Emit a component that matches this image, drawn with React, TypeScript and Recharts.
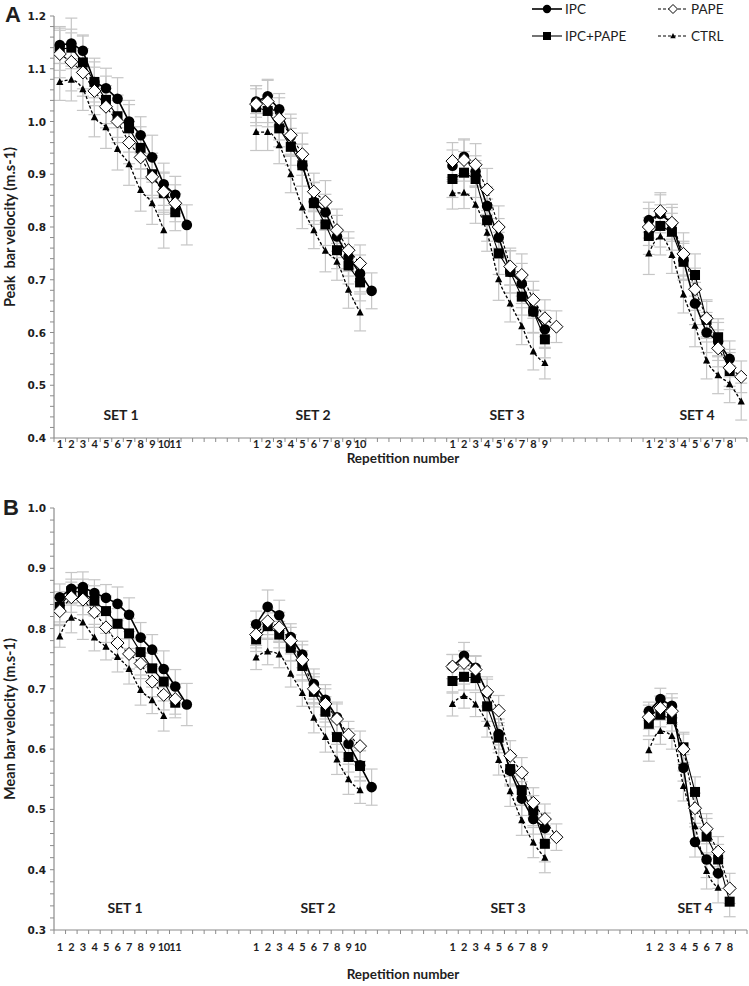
import React from 'react';
import { LineChart, Line, XAxis, YAxis, ErrorBar } from 'recharts';

const SET_START = [0, 17, 34, 51];
const SLOT_COUNT = 60;
const setNames = ['SET 1', 'SET 2', 'SET 3', 'SET 4'];
const repLabels = [
  ['1', '2', '3', '4', '5', '6', '7', '8', '9', '10', '11'],
  ['1', '2', '3', '4', '5', '6', '7', '8', '9', '10'],
  ['1', '2', '3', '4', '5', '6', '7', '8', '9'],
  ['1', '2', '3', '4', '5', '6', '7', '8'],
];

// Panel A: peak bar velocity, one inner list per set
const peakIPC = [
  [1.145, 1.148, 1.134, 1.075, 1.063, 1.043, 1.0, 0.974, 0.932, 0.881, 0.861, 0.804],
  [1.038, 1.048, 1.023, 0.972, 0.917, 0.848, 0.828, 0.782, 0.743, 0.712, 0.679],
  [0.916, 0.933, 0.905, 0.84, 0.78, 0.715, 0.693, 0.64, 0.606],
  [0.813, 0.825, 0.807, 0.737, 0.655, 0.6, 0.583, 0.55],
];
const peakCombo = [
  [1.137, 1.14, 1.112, 1.075, 1.041, 1.01, 0.987, 0.95, 0.9, 0.864, 0.828],
  [1.027, 1.02, 0.987, 0.952, 0.917, 0.845, 0.805, 0.756, 0.727, 0.695],
  [0.891, 0.903, 0.891, 0.813, 0.75, 0.715, 0.668, 0.64, 0.587],
  [0.783, 0.802, 0.791, 0.734, 0.709, 0.624, 0.591, 0.527],
];
const peakPAPE = [
  [1.128, 1.113, 1.093, 1.058, 1.028, 1.0, 0.96, 0.932, 0.895, 0.867, 0.845],
  [1.033, 1.038, 1.005, 0.974, 0.938, 0.867, 0.848, 0.794, 0.756, 0.731],
  [0.925, 0.927, 0.918, 0.871, 0.8, 0.725, 0.709, 0.662, 0.627, 0.611],
  [0.8, 0.83, 0.808, 0.749, 0.682, 0.627, 0.57, 0.533, 0.516],
];
const peakCTRL = [
  [1.075, 1.079, 1.061, 1.008, 0.989, 0.948, 0.919, 0.87, 0.845, 0.794],
  [0.98, 0.98, 0.955, 0.9, 0.837, 0.794, 0.755, 0.734, 0.681, 0.638],
  [0.864, 0.865, 0.842, 0.789, 0.701, 0.655, 0.612, 0.564, 0.542],
  [0.75, 0.782, 0.747, 0.672, 0.613, 0.547, 0.519, 0.502, 0.469],
];
const peakIPCsd = [
  [0.035, 0.048, 0.03, 0.038, 0.038, 0.04, 0.04, 0.035, 0.042, 0.04, 0.035, 0.038],
  [0.03, 0.032, 0.03, 0.034, 0.04, 0.036, 0.034, 0.04, 0.036, 0.035, 0.034],
  [0.03, 0.032, 0.03, 0.036, 0.036, 0.04, 0.038, 0.04, 0.036],
  [0.034, 0.036, 0.03, 0.036, 0.04, 0.038, 0.036, 0.034],
];
const peakComboSd = [
  [0.04, 0.035, 0.05, 0.045, 0.045, 0.04, 0.045, 0.04, 0.04, 0.04, 0.035],
  [0.035, 0.03, 0.035, 0.035, 0.04, 0.04, 0.04, 0.035, 0.035, 0.035],
  [0.035, 0.04, 0.035, 0.04, 0.04, 0.04, 0.035, 0.04, 0.035],
  [0.035, 0.04, 0.035, 0.035, 0.04, 0.035, 0.035, 0.035],
];
const peakPAPEsd = [
  [0.045, 0.055, 0.045, 0.045, 0.04, 0.04, 0.04, 0.04, 0.04, 0.035, 0.035],
  [0.035, 0.04, 0.04, 0.04, 0.04, 0.035, 0.04, 0.04, 0.035, 0.035],
  [0.035, 0.04, 0.04, 0.04, 0.04, 0.035, 0.04, 0.035, 0.035, 0.03],
  [0.035, 0.035, 0.035, 0.04, 0.04, 0.035, 0.035, 0.035, 0.03],
];
const peakCTRLsd = [
  [0.035, 0.04, 0.04, 0.037, 0.04, 0.04, 0.04, 0.04, 0.04, 0.034],
  [0.035, 0.035, 0.035, 0.035, 0.04, 0.035, 0.04, 0.035, 0.035, 0.035],
  [0.03, 0.03, 0.035, 0.035, 0.04, 0.035, 0.035, 0.035, 0.03],
  [0.04, 0.035, 0.035, 0.035, 0.04, 0.035, 0.035, 0.035, 0.035],
];

// Panel B: mean bar velocity
const meanIPC = [
  [0.852, 0.866, 0.869, 0.859, 0.851, 0.841, 0.823, 0.785, 0.765, 0.733, 0.704, 0.674],
  [0.807, 0.836, 0.822, 0.786, 0.757, 0.708, 0.682, 0.653, 0.609, 0.573, 0.537],
  [0.737, 0.755, 0.735, 0.694, 0.625, 0.564, 0.518, 0.484, 0.469],
  [0.663, 0.683, 0.672, 0.569, 0.446, 0.417, 0.394],
];
const meanCombo = [
  [0.836, 0.862, 0.86, 0.846, 0.829, 0.808, 0.792, 0.761, 0.734, 0.712, 0.677],
  [0.782, 0.804, 0.79, 0.768, 0.738, 0.695, 0.662, 0.62, 0.587, 0.572],
  [0.713, 0.72, 0.718, 0.671, 0.619, 0.567, 0.532, 0.498, 0.443],
  [0.642, 0.657, 0.65, 0.603, 0.529, 0.455, 0.417, 0.347],
];
const meanPAPE = [
  [0.829, 0.852, 0.848, 0.827, 0.802, 0.776, 0.758, 0.742, 0.712, 0.69, 0.683],
  [0.79, 0.812, 0.802, 0.78, 0.748, 0.7, 0.675, 0.65, 0.624, 0.605],
  [0.737, 0.743, 0.732, 0.695, 0.664, 0.589, 0.561, 0.511, 0.484, 0.454],
  [0.653, 0.668, 0.663, 0.6, 0.502, 0.468, 0.43, 0.369],
];
const meanCTRL = [
  [0.787, 0.818, 0.81, 0.785, 0.77, 0.753, 0.733, 0.698, 0.681, 0.655],
  [0.752, 0.762, 0.757, 0.725, 0.693, 0.652, 0.62, 0.583, 0.55, 0.532],
  [0.675, 0.688, 0.674, 0.642, 0.582, 0.53, 0.482, 0.445, 0.42],
  [0.598, 0.63, 0.622, 0.539, 0.472, 0.398, 0.37],
];
const meanIPCsd = [
  [0.022, 0.027, 0.025, 0.022, 0.022, 0.028, 0.028, 0.025, 0.025, 0.03, 0.028, 0.035],
  [0.022, 0.028, 0.025, 0.022, 0.022, 0.025, 0.025, 0.025, 0.025, 0.025, 0.03],
  [0.02, 0.022, 0.02, 0.022, 0.025, 0.025, 0.028, 0.025, 0.025],
  [0.015, 0.018, 0.02, 0.022, 0.025, 0.03, 0.025],
];
const meanComboSd = [
  [0.025, 0.02, 0.022, 0.025, 0.025, 0.025, 0.025, 0.025, 0.025, 0.022, 0.025],
  [0.02, 0.022, 0.022, 0.022, 0.025, 0.025, 0.025, 0.025, 0.025, 0.025],
  [0.02, 0.022, 0.02, 0.025, 0.025, 0.025, 0.025, 0.025, 0.03],
  [0.02, 0.02, 0.02, 0.025, 0.025, 0.03, 0.025, 0.025],
];
const meanPAPEsd = [
  [0.022, 0.025, 0.025, 0.025, 0.025, 0.025, 0.025, 0.025, 0.025, 0.025, 0.025],
  [0.022, 0.022, 0.025, 0.022, 0.025, 0.025, 0.025, 0.025, 0.022, 0.025],
  [0.02, 0.02, 0.022, 0.025, 0.025, 0.025, 0.025, 0.025, 0.025, 0.022],
  [0.02, 0.02, 0.022, 0.025, 0.025, 0.025, 0.025, 0.025],
];
const meanCTRLsd = [
  [0.018, 0.025, 0.028, 0.022, 0.022, 0.025, 0.025, 0.025, 0.022, 0.025],
  [0.02, 0.022, 0.022, 0.022, 0.022, 0.025, 0.025, 0.025, 0.025, 0.022],
  [0.02, 0.02, 0.02, 0.022, 0.025, 0.025, 0.025, 0.025, 0.025],
  [0.018, 0.022, 0.022, 0.025, 0.025, 0.03, 0.025],
];

const INK = '#1e1e1e';
const AXIS = '#8c8c8c';
const BAR = '#c6c6c6';
const FONT = 'Lato, "Open Sans", Arial, sans-serif';
const NUM_FONT = '"DejaVu Sans", Verdana, sans-serif';

const slotLabel: Record<number, string> = {};
repLabels.forEach((labels, s) => labels.forEach((l, i) => { slotLabel[SET_START[s] + i] = l; }));
const xTicks = [
  ...Array.from({ length: SLOT_COUNT + 1 }, (_, i) => i - 0.5),
  ...Object.keys(slotLabel).map(Number),
];

function yTicks(lo: number, hi: number) {
  const out: number[] = [];
  for (let i = 0; i <= Math.round((hi - lo) / 0.02); i++) out.push(Math.round((lo + i * 0.02) * 100) / 100);
  return out;
}

type Series = { key: string; values: number[][]; sd: number[][] };

function buildRows(series: Series[]) {
  const rows: Record<string, number>[] = Array.from({ length: SLOT_COUNT }, (_, i) => ({ slot: i }));
  series.forEach((s) =>
    s.values.forEach((setVals, si) =>
      setVals.forEach((v, r) => {
        const row = rows[SET_START[si] + r];
        row[s.key] = v;
        row[s.key + 'Sd'] = s.sd[si][r];
      }),
    ),
  );
  return rows;
}

const peakRows = buildRows([
  { key: 'ipc', values: peakIPC, sd: peakIPCsd },
  { key: 'combo', values: peakCombo, sd: peakComboSd },
  { key: 'pape', values: peakPAPE, sd: peakPAPEsd },
  { key: 'ctrl', values: peakCTRL, sd: peakCTRLsd },
]);
const meanRows = buildRows([
  { key: 'ipc', values: meanIPC, sd: meanIPCsd },
  { key: 'combo', values: meanCombo, sd: meanComboSd },
  { key: 'pape', values: meanPAPE, sd: meanPAPEsd },
  { key: 'ctrl', values: meanCTRL, sd: meanCTRLsd },
]);

const circleMark = (cx: number, cy: number, r = 5.3) => <circle cx={cx} cy={cy} r={r} fill="#000" />;
const squareMark = (cx: number, cy: number, h = 5) => <rect x={cx - h} y={cy - h} width={h * 2} height={h * 2} fill="#000" />;
const diamondMark = (cx: number, cy: number, h = 6.5) => (
  <polygon points={`${cx},${cy - h} ${cx + h},${cy} ${cx},${cy + h} ${cx - h},${cy}`} fill="#fff" stroke="#000" strokeWidth={1} />
);
const triangleMark = (cx: number, cy: number, h = 4) => (
  <polygon points={`${cx},${cy - h} ${cx + h * 0.9},${cy + h * 0.75} ${cx - h * 0.9},${cy + h * 0.75}`} fill="#000" />
);

function makeDot(draw: (cx: number, cy: number) => React.ReactElement, name: string) {
  return (p: any) => {
    if (p.cy == null || p.value == null || Number.isNaN(p.cy)) return <g key={`${name}-${p.index}`} />;
    return <g key={`${name}-${p.index}`}>{draw(p.cx, p.cy)}</g>;
  };
}

function XTick(props: any) {
  const { x, y, payload, offset } = props;
  const v = payload.value;
  if (!Number.isInteger(v)) return <line x1={x} x2={x} y1={y} y2={y + 4} stroke={AXIS} strokeWidth={1} />;
  return (
    <text x={x} y={y + offset} textAnchor="middle" fontFamily={FONT} fontWeight={700} fontSize={11} fill={INK} letterSpacing={-0.3}>
      {slotLabel[v]}
    </text>
  );
}

function YTick(props: any) {
  const { x, y, payload } = props;
  const v = payload.value as number;
  const major = Math.abs(v * 10 - Math.round(v * 10)) < 1e-6;
  return (
    <g>
      <line x1={x - 4} x2={x} y1={y} y2={y} stroke={AXIS} strokeWidth={1} />
      {major && (
        <text x={x - 8} y={y + 4} textAnchor="end" fontFamily={NUM_FONT} fontWeight={700} fontSize={10.5} fill={INK}>
          {v.toFixed(1)}
        </text>
      )}
    </g>
  );
}

type PanelProps = {
  top: number;
  height: number;
  marginTop: number;
  marginBottom: number;
  xAxisHeight: number;
  domain: [number, number];
  rows: Record<string, number>[];
  labelOffset: number;
};

function Panel({ top, height, marginTop, marginBottom, xAxisHeight, domain, rows, labelOffset }: PanelProps) {
  return (
    <div style={{ position: 'absolute', left: 0, top }}>
      <LineChart width={749} height={height} data={rows} margin={{ top: marginTop, right: 2, left: 0, bottom: marginBottom }}>
        <XAxis
          dataKey="slot"
          type="number"
          domain={[-0.5, SLOT_COUNT - 0.5]}
          ticks={xTicks}
          interval={0}
          allowDataOverflow
          height={xAxisHeight}
          tickLine={false}
          tickSize={0}
          tickMargin={0}
          axisLine={{ stroke: AXIS, strokeWidth: 1.2 }}
          tick={(p: any) => <XTick {...p} offset={labelOffset} />}
        />
        <YAxis
          type="number"
          domain={domain}
          ticks={yTicks(domain[0], domain[1])}
          interval={0}
          allowDataOverflow
          width={54}
          tickLine={false}
          tickSize={0}
          tickMargin={0}
          axisLine={{ stroke: AXIS, strokeWidth: 1.2 }}
          tick={(p: any) => <YTick {...p} />}
        />
        {['ipc', 'combo', 'pape', 'ctrl'].map((k) => (
          <Line key={`sd-${k}`} dataKey={k} stroke="none" dot={false} activeDot={false} isAnimationActive={false}>
            <ErrorBar dataKey={`${k}Sd`} width={6} stroke={BAR} strokeWidth={1.2} direction="y" />
          </Line>
        ))}
        <Line dataKey="ipc" type="linear" stroke="#000" strokeWidth={1.6} dot={makeDot(circleMark, 'ipc')} activeDot={false} isAnimationActive={false} />
        <Line dataKey="combo" type="linear" stroke="#000" strokeWidth={1.1} dot={makeDot(squareMark, 'combo')} activeDot={false} isAnimationActive={false} />
        <Line dataKey="pape" type="linear" stroke="#000" strokeWidth={1.1} strokeDasharray="3 2" dot={makeDot(diamondMark, 'pape')} activeDot={false} isAnimationActive={false} />
        <Line dataKey="ctrl" type="monotone" stroke="#000" strokeWidth={1.3} strokeDasharray="3 2" dot={makeDot(triangleMark, 'ctrl')} activeDot={false} isAnimationActive={false} />
      </LineChart>
    </div>
  );
}

function Txt({ x, y, size, weight = 700, rotate = 0, family = FONT, children }: any) {
  return (
    <div
      style={{
        position: 'absolute',
        left: x,
        top: y,
        transform: `translate(-50%, -50%) rotate(${rotate}deg)`,
        fontFamily: family,
        fontSize: size,
        fontWeight: weight,
        color: INK,
        whiteSpace: 'pre',
        lineHeight: 1,
      }}
    >
      {children}
    </div>
  );
}

function Legend() {
  const rows = [
    { y: 9, x: 547, name: 'IPC', mark: circleMark(547, 9, 4.2), dash: undefined, w: 1.6 },
    { y: 36, x: 547, name: 'IPC+PAPE', mark: squareMark(547, 36, 4), dash: undefined, w: 1.1 },
    { y: 9, x: 673, name: 'PAPE', mark: diamondMark(673, 9, 4.5), dash: '3 2', w: 1 },
    { y: 36, x: 673, name: 'CTRL', mark: triangleMark(673, 36, 3), dash: '3 2', w: 1 },
  ];
  return (
    <svg width={749} height={50} style={{ position: 'absolute', left: 0, top: 0 }}>
      {rows.map((r) => (
        <g key={r.name}>
          <line x1={r.x - 15} x2={r.x + 15} y1={r.y} y2={r.y} stroke="#000" strokeWidth={r.w} strokeDasharray={r.dash} />
          {r.mark}
          <text x={r.x + 18} y={r.y + 4.5} fontFamily={FONT} fontSize={13.5} fill={INK}>
            {r.name}
          </text>
        </g>
      ))}
    </svg>
  );
}

const topSetX = [121, 313, 507, 697];
const bottomSetX = [125, 318, 508, 695];

export default function App() {
  return (
    <div style={{ position: 'absolute', left: 0, top: 0, width: 749, height: 986, background: '#fff' }}>
      <Panel top={0} height={470} marginTop={16} marginBottom={0} xAxisHeight={32} domain={[0.4, 1.2]} rows={peakRows} labelOffset={10} />
      <Panel top={470} height={516} marginTop={38} marginBottom={26} xAxisHeight={30} domain={[0.3, 1.0]} rows={meanRows} labelOffset={21} />
      <Legend />
      <Txt x={13} y={15} size={22} family='"Liberation Sans", Arial, sans-serif'>A</Txt>
      <Txt x={11} y={508} size={22} family='"Liberation Sans", Arial, sans-serif'>B</Txt>
      <Txt x={10} y={227} size={14.5} rotate={-90}>{'Peak  bar velocity (m.s-1)'}</Txt>
      <Txt x={10} y={719} size={14.5} rotate={-90}>Mean bar velocity (m.s-1)</Txt>
      <Txt x={403} y={459} size={13.5}>Repetition number</Txt>
      <Txt x={403} y={975} size={13.5}>Repetition number</Txt>
      {setNames.map((s, i) => (
        <Txt key={`t${s}`} x={topSetX[i]} y={415} size={14}>{s}</Txt>
      ))}
      {setNames.map((s, i) => (
        <Txt key={`b${s}`} x={bottomSetX[i]} y={908} size={14}>{s}</Txt>
      ))}
    </div>
  );
}
